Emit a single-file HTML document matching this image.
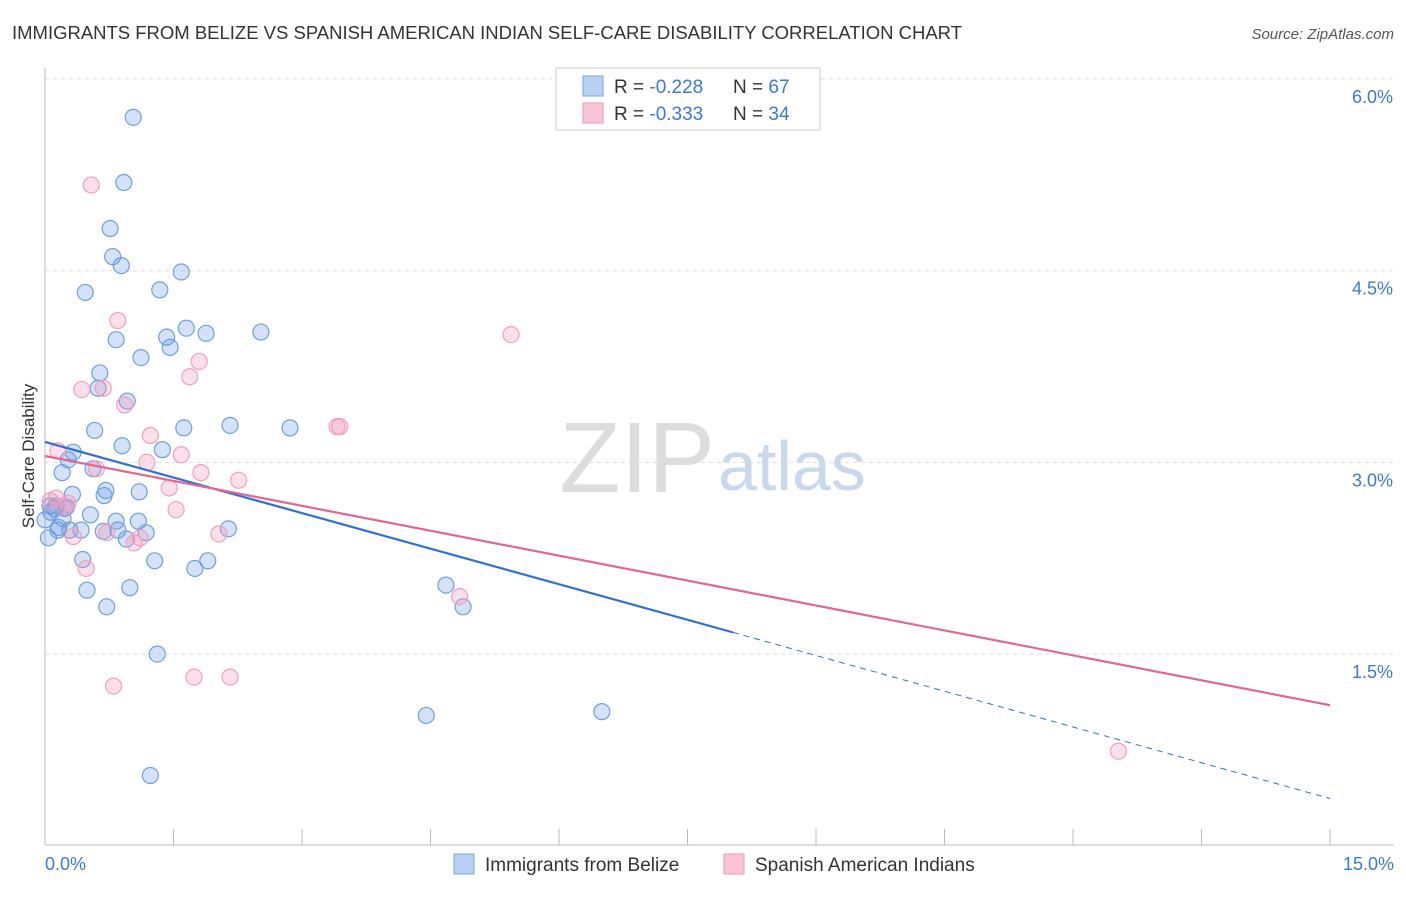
<!DOCTYPE html>
<html><head><meta charset="utf-8"><style>
body{margin:0;background:#fff;font-family:"Liberation Sans",sans-serif;}
svg text{font-family:"Liberation Sans",sans-serif;}
</style></head><body>
<svg id="chart" width="1406" height="892">
<text x="12" y="39" font-size="18" fill="#333" textLength="950" lengthAdjust="spacingAndGlyphs">IMMIGRANTS FROM BELIZE VS SPANISH AMERICAN INDIAN SELF-CARE DISABILITY CORRELATION CHART</text>
<text x="1394" y="39" font-size="15" fill="#555" text-anchor="end" font-style="italic">Source: ZipAtlas.com</text>
<g id="grid"></g>
<g id="xaxis"></g>
<g id="yaxis"></g>
<text x="34" y="456" font-size="17" fill="#333" text-anchor="middle" transform="rotate(-90 34 456)">Self-Care Disability</text>
<text x="715" y="492" font-size="100" fill="#ddd" text-anchor="end" font-family="Liberation Serif">ZIP</text>
<text x="718" y="490" font-size="70" fill="#c8d8ef">atlas</text>
<g id="pts"></g>
<g id="lines"></g>
<g>
<rect x="556" y="68" width="264" height="62" fill="#fff" stroke="#ccc"/>
<rect x="583" y="76" width="20" height="20" fill="#b8d0f4" stroke="#7aa4e0"/>
<rect x="583" y="103" width="20" height="20" fill="#f9c6d6" stroke="#ee9ab8"/>
<text x="614" y="93" font-size="19" fill="#333">R = <tspan fill="#3b78d8">-0.228</tspan><tspan x="733">N = </tspan><tspan fill="#3b78d8">67</tspan></text>
<text x="614" y="120" font-size="19" fill="#333">R = <tspan fill="#3b78d8">-0.333</tspan><tspan x="733">N = </tspan><tspan fill="#3b78d8">34</tspan></text>
</g>
<g>
<rect x="454" y="854" width="20" height="20" fill="#b8d0f4" stroke="#7aa4e0"/>
<text x="485" y="871" font-size="19" fill="#333">Immigrants from Belize</text>
<rect x="724" y="854" width="20" height="20" fill="#f9c6d6" stroke="#ee9ab8"/>
<text x="755" y="871" font-size="19" fill="#333">Spanish American Indians</text>
</g>
</svg>
<script>
const xTicks=[0,1.5,3,4.5,6,7.5,9,10.5,12,13.5,15];
const yTicks=[1.5,3.0,4.5,6.0];
const yTickLabels=["1.5%","3.0%","4.5%","6.0%"];
const xLabels=["0.0%","15.0%"];
const belizeX=[1.03,0.92,0.76,0.79,0.89,1.59,0.47,1.34,1.65,1.88,2.52,1.42,0.83,1.46,1.12,0.64,0.62,0.96,2.16,2.86,1.62,0.58,0.90,1.37,0.33,0.27,0.20,0.56,0.32,0.71,0.69,1.10,0.13,0.07,0.23,0.11,0.53,0.21,0.83,1.09,0.16,0.42,0.85,1.18,0.68,2.14,0.95,0.04,0.44,1.28,1.90,1.75,4.68,0.99,0.49,0.72,4.88,1.31,4.45,6.50,1.23,0.25,0.0,0.15,0.29,0.06];
const belizeY=[5.7,5.19,4.83,4.61,4.54,4.49,4.33,4.35,4.05,4.01,4.02,3.98,3.96,3.90,3.82,3.70,3.58,3.48,3.29,3.27,3.27,3.25,3.13,3.10,3.08,3.02,2.92,2.95,2.75,2.78,2.74,2.77,2.66,2.61,2.64,2.64,2.59,2.56,2.54,2.54,2.49,2.47,2.47,2.45,2.46,2.48,2.40,2.41,2.24,2.23,2.23,2.17,2.04,2.02,2.00,1.87,1.87,1.50,1.02,1.05,0.55,2.65,2.55,2.47,2.47,2.66];
const spanX=[0.54,0.85,5.44,1.80,1.69,0.43,0.68,0.93,3.44,3.41,1.23,1.59,0.15,1.19,0.60,1.82,2.26,1.45,0.13,0.27,1.53,2.03,0.72,1.04,0.33,0.48,4.84,0.80,1.74,2.16,12.53,0.06,1.11,0.23];
const spanY=[5.17,4.11,4.0,3.79,3.67,3.57,3.58,3.45,3.28,3.28,3.21,3.06,3.09,3.00,2.95,2.92,2.86,2.80,2.72,2.68,2.63,2.44,2.45,2.37,2.42,2.17,1.95,1.25,1.32,1.32,0.74,2.70,2.41,2.65];
const X=v=>45+v*85.67, Y=v=>79+(6-v)*127.8;
const NS="http://www.w3.org/2000/svg";
function mk(tag,attrs,parent){const e=document.createElementNS(NS,tag);for(const k in attrs)e.setAttribute(k,attrs[k]);parent.appendChild(e);return e;}
const grid=document.getElementById('grid'),xa=document.getElementById('xaxis'),ya=document.getElementById('yaxis');
yTicks.forEach((t,i)=>{
 const l=mk('line',{x1:45,x2:1394,y1:Y(t),y2:Y(t),stroke:'#ddd','stroke-dasharray':'4,4'},grid);
 
 
 const tx=mk('text',{x:1393,y:Y(t)+24,'font-size':18,fill:'#3b78d8','text-anchor':'end'},ya);
 tx.textContent=yTickLabels[i];
 
 
});
mk('line',{x1:45,x2:45,y1:68,y2:845,stroke:'#bbb'},ya);
mk('line',{x1:45,x2:1394,y1:845,y2:845,stroke:'#bbb'},xa);
xTicks.forEach(t=>{const l=mk('line',{x1:X(t),x2:X(t),y1:829,y2:845,stroke:'#bbb'},xa);
 
 });
[[0,'start',45],[15,'end',1394]].forEach((a,i)=>{const tx=mk('text',{x:a[2],y:870,'font-size':18,fill:'#3b78d8','text-anchor':a[1]},xa);tx.textContent=xLabels[i];
 
 });
const pts=document.getElementById('pts');
belizeX.forEach((x,i)=>{const c=mk('circle',{cx:X(x),cy:Y(belizeY[i]),r:8,fill:'rgba(110,160,230,0.3)',stroke:'#6f9fe0','stroke-width':1.2},pts);
 
 });
spanX.forEach((x,i)=>{const c=mk('circle',{cx:X(x),cy:Y(spanY[i]),r:8,fill:'rgba(245,150,185,0.3)',stroke:'#f0a0bd','stroke-width':1.2},pts);
 
 });
const lines=document.getElementById('lines');
const bl=[3.16,1.67,0.37], sp=[3.05,1.10];
let l1=mk('line',{x1:X(0),y1:Y(bl[0]),x2:X(8.03),y2:Y(bl[1]),stroke:'#2f6fd6','stroke-width':2.2},lines);


let l2=mk('line',{x1:X(8.03),y1:Y(bl[1]),x2:X(15),y2:Y(bl[2]),stroke:'#2f6fd6','stroke-width':1,'stroke-dasharray':'6,5'},lines);


let l3=mk('line',{x1:X(0),y1:Y(sp[0]),x2:X(15),y2:Y(sp[1]),stroke:'#e06792','stroke-width':2.2},lines);


</script>
</body></html>
